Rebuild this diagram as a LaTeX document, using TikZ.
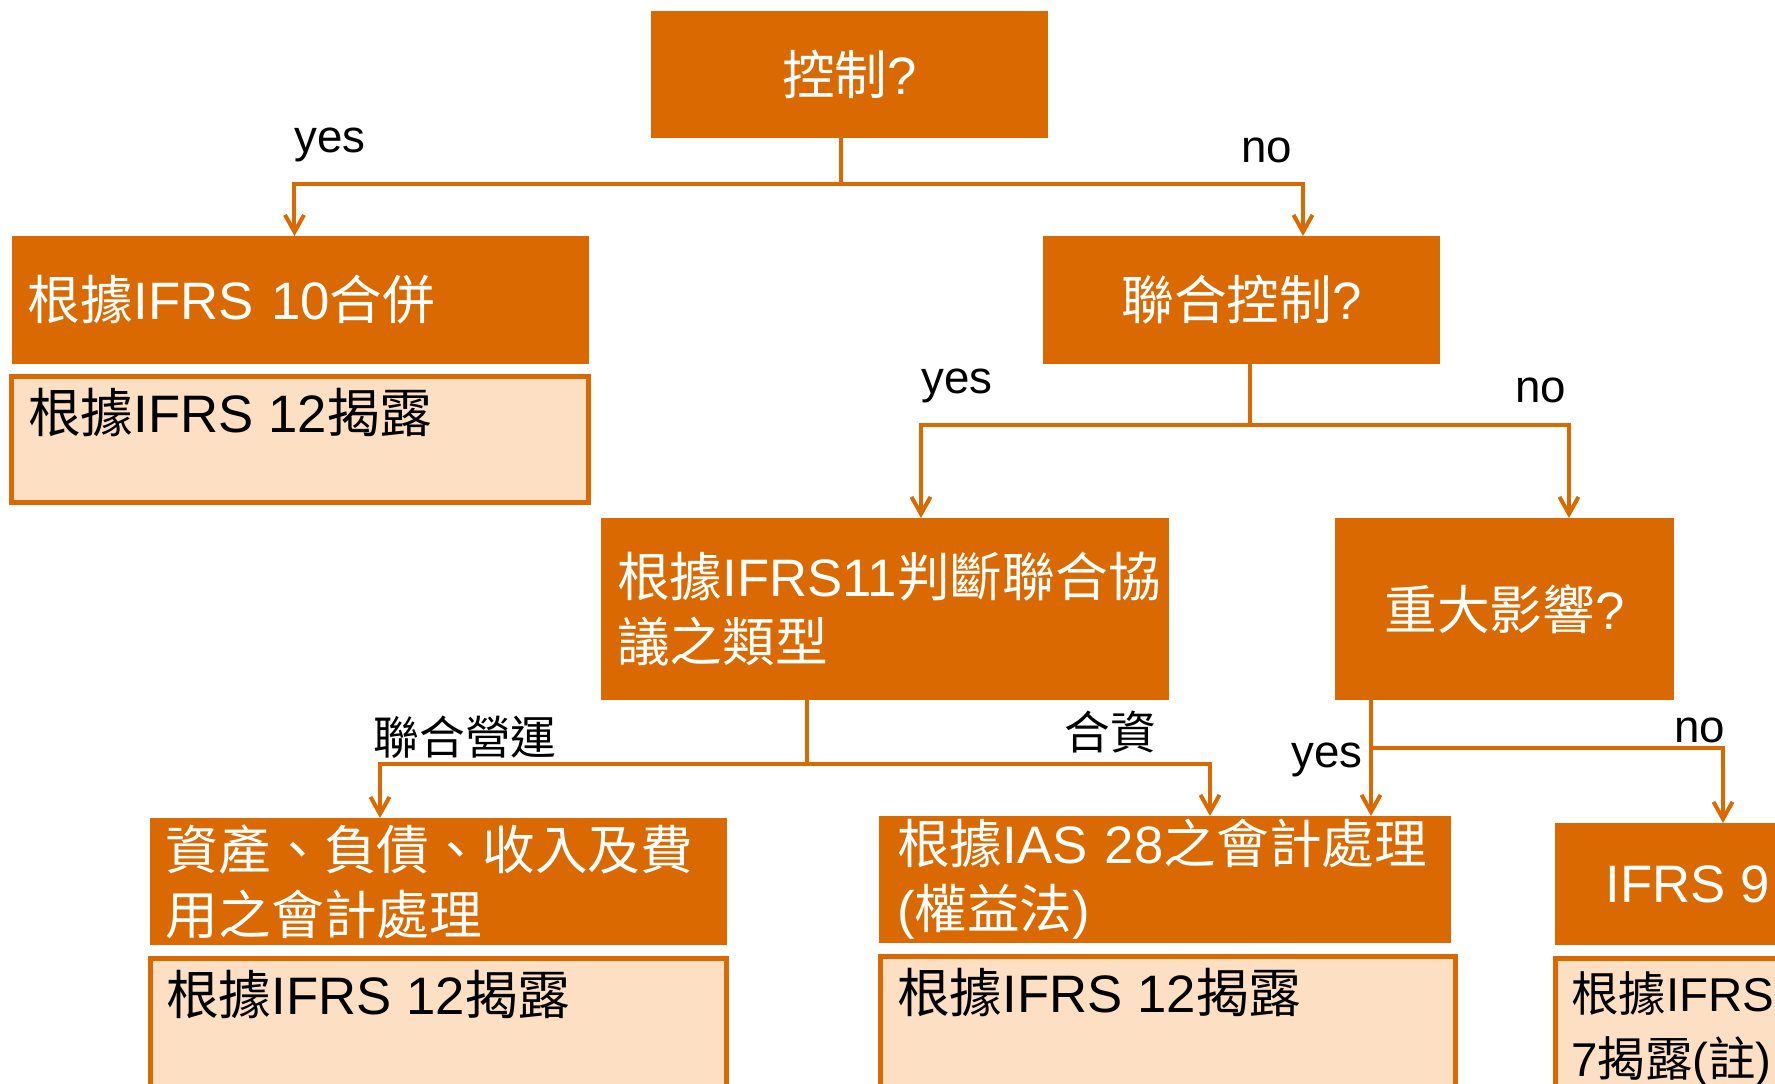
\documentclass[tikz,border=0pt]{standalone}
\usepackage{fontspec}
\setmainfont{Liberation Sans}
\newfontfamily\cjkfont{Noto Sans CJK TC}
\usepackage{tikz}
\usetikzlibrary{arrows.meta}
\definecolor{boxorange}{HTML}{D96900}
\definecolor{boxpeach}{HTML}{FDDFC4}
\newcommand\zh[1]{{\cjkfont #1}}
\newcommand\boxfont{\fontsize{15}{18.5}\selectfont}
\newcommand\lblfont{\fontsize{13}{15}\selectfont}
\tikzset{
  orangebox/.style 2 args={fill=boxorange, text=white, font=\boxfont, anchor=north west,
    inner sep=0pt, outer sep=0pt, minimum width=#1, minimum height=#2},
  peachbox/.style 2 args={draw=boxorange, line width=0.5mm, fill=boxpeach, anchor=north west,
    inner sep=0pt, outer sep=0pt, minimum width=#1, minimum height=#2},
  peachtext/.style={anchor=north west, inner sep=0pt, font=\boxfont, align=left},
  lbl/.style={font=\lblfont, inner sep=0pt},
  bus/.style={draw=boxorange, line width=0.4mm},
  flow/.style={bus, -{Straight Barb[length=1.7mm, width=1.9mm]}}
}
\begin{document}
\begin{tikzpicture}[x=0.1mm, y=-0.1mm]
\useasboundingbox (0,0) rectangle (1775,1083);
\clip (0,0) rectangle (1775,1083);

% decisions
\node[orangebox={39.7mm}{12.7mm}] (ctrl) at (651,11) {\zh{控制}?};
\node[orangebox={39.7mm}{12.8mm}] (jctrl) at (1043,236) {\zh{聯合控制}?};
\node[orangebox={33.9mm}{18.2mm}] (sig) at (1335,518) {\zh{重大影響}?};
\node[orangebox={56.8mm}{18.2mm}, text width=53.6mm, inner xsep=1.6mm, align=left] (jtype) at (601,518)
  {\zh{根據}IFRS11\zh{判斷聯合協}\\\zh{議之類型}};

% outcomes
\node[orangebox={57.7mm}{12.8mm}, text width=54.5mm, inner xsep=1.6mm, align=left] (cons) at (12,236)
  {\zh{根據}IFRS 10\zh{合併}};
\node[orangebox={57.7mm}{12.7mm}, text width=54.5mm, inner xsep=1.6mm, align=left] (jop) at (150,818)
  {\zh{資產、負債、收入及費}\\\zh{用之會計處理}};
\node[orangebox={57.2mm}{12.7mm}, text width=53.6mm, inner xsep=1.8mm, align=left] (equity) at (879,816)
  {\zh{根據}IAS 28\zh{之會計處理}\\(\zh{權益法})};
\node[orangebox={26.5mm}{12.2mm}] (fin) at (1555,823) {IFRS 9};

% disclosures
\node[peachbox={57.7mm}{12.6mm}] (dis10) at (11.5,376.5) {};
\node[peachtext] (dis10t) at ([xshift=1.6mm, yshift=-1.1mm]dis10.north west) {\zh{根據}IFRS 12\zh{揭露}};
\node[peachbox={57.6mm}{20mm}] (disjop) at (150.5,958.5) {};
\node[peachtext] (disjopt) at ([xshift=1.5mm, yshift=-1.1mm]disjop.north west) {\zh{根據}IFRS 12\zh{揭露}};
\node[peachbox={57.5mm}{20mm}] (diseq) at (880.5,956.5) {};
\node[peachtext] (diseqt) at ([xshift=1.6mm, yshift=-1.1mm]diseq.north west) {\zh{根據}IFRS 12\zh{揭露}};
\node[peachbox={27.5mm}{20mm}] (disfin) at (1555.5,958.5) {};
\node[peachtext, font=\fontsize{13.5}{18.5}\selectfont] (disfint) at ([xshift=1.5mm, yshift=-1.2mm]disfin.north west)
  {\zh{根據}IFRS\\7\zh{揭露}(\zh{註})};

% branch points
\coordinate (b1) at (841,184);
\coordinate (b2) at (1250,425);
\coordinate (b3) at (807,764);
\coordinate (b4) at (1371,748);

\draw[bus] (ctrl.south -| b1) -- (b1);
\draw[flow] (b1) -| ([xshift=-0.6mm]cons.north);
\draw[flow] (b1) -| ([xshift=6.15mm]jctrl.north);
\draw[bus] (jctrl.south -| b2) -- (b2);
\draw[flow] (b2) -| ([xshift=3.6mm]jtype.north);
\draw[flow] (b2) -| ([xshift=6.45mm]sig.north);
\draw[bus] (jtype.south -| b3) -- (b3);
\draw[flow] (b3) -| ([xshift=-5.85mm]jop.north);
\draw[flow] (b3) -| ([xshift=4.5mm]equity.north);
\draw[bus] (sig.south -| b4) -- (b4);
\draw[flow] (b4) -- (equity.north -| b4);
\draw[flow] (b4) -| ([xshift=3.55mm]fin.north);

% branch labels
\node[lbl] (yes1) at (330,145) {yes};
\node[lbl] (no1) at (1267,150) {no};
\node[lbl] (yes2) at (957,386) {yes};
\node[lbl] (no2) at (1541,390) {no};
\node[lbl] (opl) at (465,737) {\zh{聯合營運}};
\node[lbl] (jvl) at (1110,732) {\zh{合資}};
\node[lbl] (yes3) at (1327,760) {yes};
\node[lbl] (no3) at (1700,730) {no};
\end{tikzpicture}
\end{document}
